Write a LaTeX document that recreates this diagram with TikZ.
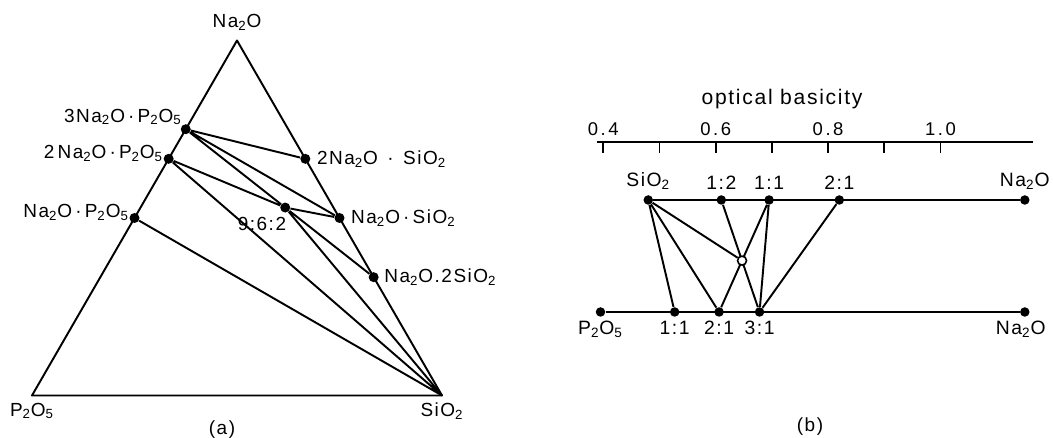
\documentclass[tikz,border=0pt]{standalone}
\usepackage{fontspec}
\setmainfont[LetterSpace=8]{Liberation Sans}
\usetikzlibrary{positioning,calc}
\newcommand*{\ix}[1]{\textsubscript{#1}}
\tikzset{
  tie/.style={line width=1.1pt,line join=round},
  dot/.style={circle,fill=black,inner sep=0pt,minimum size=#1},
  dot/.default=2mm,
  hole/.style={circle,draw=black,fill=white,line width=0.9pt,inner sep=0pt,minimum size=1.8mm},
  lab/.style={inner sep=0pt,font=\fontsize{10.8}{12}\selectfont},
  blab/.style={inner sep=0pt,font=\fontsize{11}{13}\selectfont},
  tick/.style={inner sep=0pt,font=\fontsize{10.5}{12}\selectfont\addfontfeatures{LetterSpace=14}},
}

\begin{document}
\begin{tikzpicture}
  \useasboundingbox (0,0) rectangle (21.06,8.76);
  % (a) ternary Na2O--P2O5--SiO2
  \coordinate (P) at (0.64,0.85);
  \coordinate (S) at (8.84,0.85);
  \coordinate (N) at (4.74,7.95);
  \draw[tie] (P) -- (S) -- (N) -- cycle;
  \node[dot] (p3) at (barycentric cs:N=3,P=1) {};
  \node[dot] (p2) at (barycentric cs:N=2,P=1) {};
  \node[dot] (p1) at (barycentric cs:N=1,P=1) {};
  \node[dot] (s2) at (barycentric cs:N=2,S=1) {};
  \node[dot] (s1) at (barycentric cs:N=1,S=1) {};
  \node[dot] (s12) at (barycentric cs:N=1,S=2) {};
  \node[dot] (q) at (barycentric cs:N=9,S=6,P=2) {};
  \draw[tie] (p3) -- (s2) (p3) -- (s1) (p3) -- (q)
             (p2) -- (q) (p2) -- (S) (p1) -- (S)
             (q) -- (s1) (q) -- (s12) (q) -- (S);
  \node[lab,above=2mm of N] (lN) {Na\ix{2}O};
  \node[lab,below=1.4mm of P] (lP) {P\ix{2}O\ix{5}};
  \node[lab,below=1.4mm of S] (lS) {SiO\ix{2}};
  \node[lab,anchor=south east] (l3) at (p3.north west) {3Na\ix{2}O\,·\,P\ix{2}O\ix{5}};
  \node[lab,anchor=base east] (l2) at (p2.west) {2\,Na\ix{2}O\,·\,P\ix{2}O\ix{5}};
  \node[lab,anchor=base east] (l1) at (p1.west) {Na\ix{2}O\,·\,P\ix{2}O\ix{5}};
  \node[lab,right=1.2mm of s2] (ls2) {2Na\ix{2}O\enspace·\enspace SiO\ix{2}};
  \node[lab,right=1.2mm of s1] (ls1) {Na\ix{2}O\,·\,SiO\ix{2}};
  \node[lab,right=1mm of s12] (ls12) {Na\ix{2}O.2SiO\ix{2}};
  \node[lab,below left=1.2mm and -1mm of q] (lq) {9:6:2};
  \node[lab] (ca) at (4.44,0.16) {(a)};

  % (b) optical basicity scale
  \begin{scope}[xshift=7.57cm,x=11.24cm]
    \coordinate (ax0) at (0.388,5.926);
    \coordinate (ax1) at (1.165,5.926);
    \draw[tie] (ax0) -- (ax1);
    \foreach \b in {0.4,0.5,...,1.1}
      \draw[tie] (\b,5.926) -- ++(0,-0.22);
    \foreach \b [count=\i] in {0.4,0.6,0.8,1.0}
      \node[tick,above=1.1mm] (tk\i) at (\b,5.926) {\b};
    \node[inner sep=0pt,font=\fontsize{12}{14}\selectfont,anchor=base] (ttl) at (0.718,6.66) {optical basicity};
    % SiO2 -- Na2O
    \node[dot=1.9mm] (ts) at (0.48,4.76) {};
    \node[dot=1.9mm] (t12) at (0.61,4.76) {};
    \node[dot=1.9mm] (t11) at (0.695,4.76) {};
    \node[dot=1.9mm] (t21) at (0.82,4.76) {};
    \node[dot=1.9mm] (tn) at (1.15,4.76) {};
    % P2O5 -- Na2O
    \node[dot=1.9mm] (bp) at (0.395,2.52) {};
    \node[dot=1.9mm] (b11) at (0.527,2.52) {};
    \node[dot=1.9mm] (b21) at (0.606,2.52) {};
    \node[dot=1.9mm] (b31) at (0.678,2.52) {};
    \node[dot=1.9mm] (bn) at (1.15,2.52) {};
    \draw[tie] (ts) -- (tn) (bp) -- (bn);
    \draw[tie] (ts) -- (b11) (ts) -- (b21) (t12) -- (b31)
               (t11) -- (b21) (t11) -- (b31) (t21) -- (b31);
    \node[hole] (m) at (intersection of t12--b31 and t11--b21) {};
    \draw[tie] (ts) -- (m);
    \node[blab,above=1mm of ts] (lts) {SiO\ix{2}};
    \node[blab,above=1mm of t12] (lt12) {1:2};
    \node[blab,above=1mm of t11] (lt11) {1:1};
    \node[blab,above=1mm of t21] (lt21) {2:1};
    \node[blab,above=1mm of tn] (ltn) {Na\ix{2}O};
    \node[blab,below=0.8mm of bp] (lbp) {P\ix{2}O\ix{5}};
    \node[blab,below=0.8mm of b11] (lb11) {1:1};
    \node[blab,below=0.8mm of b21] (lb21) {2:1};
    \node[blab,below=0.8mm of b31] (lb31) {3:1};
    \node[blab,below=0.8mm of bn,xshift=-0.8mm] (lbn) {Na\ix{2}O};
  \end{scope}
  \node[lab] (cb) at (16.2,0.22) {(b)};
\end{tikzpicture}
\end{document}
